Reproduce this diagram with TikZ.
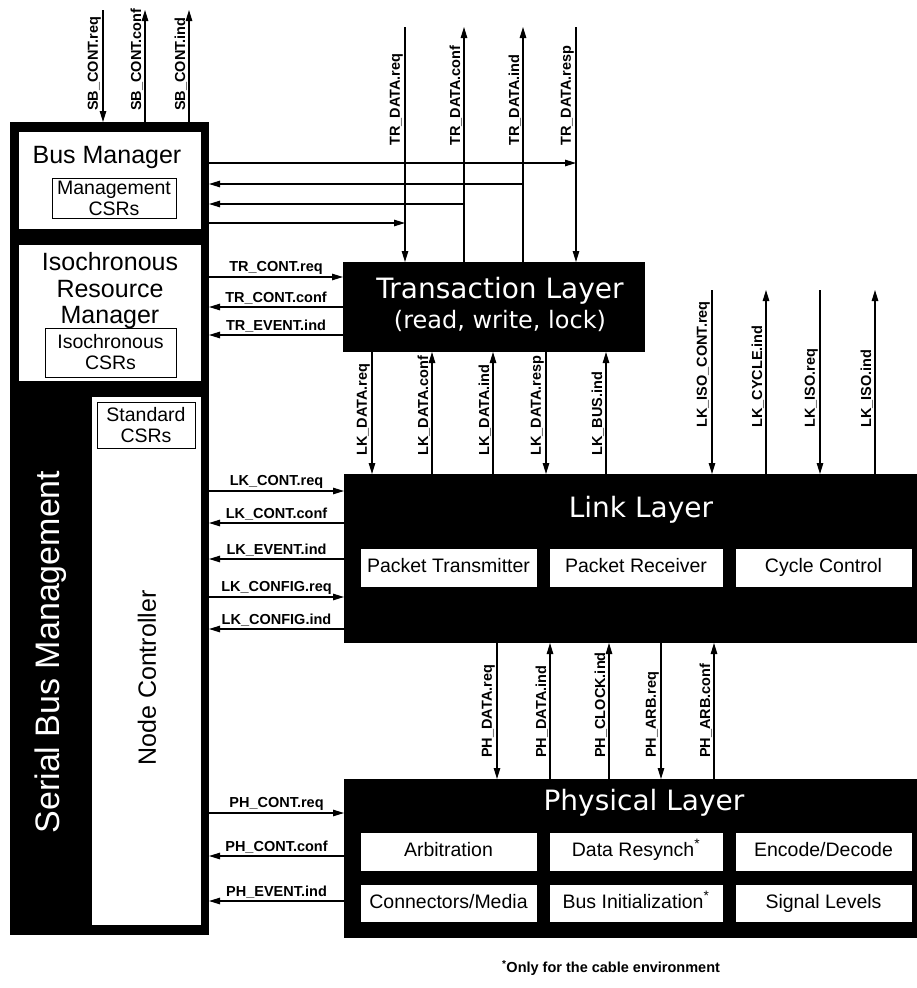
\documentclass[tikz,border=0pt]{standalone}
\usepackage{fontspec}
\setmainfont{Liberation Sans}
\newfontfamily\layerfont{DejaVu Sans}
\usetikzlibrary{arrows.meta}

\newcommand{\sigfont}{\fontsize{14.5}{16}\selectfont\bfseries}

\tikzset{
  sig/.style={line width=1.2pt},
  fwd/.style={-{Triangle[length=11pt,width=6.5pt]}},
  bwd/.style={{Triangle[length=11pt,width=6.5pt]}-},
  blk/.style={fill=black, inner sep=0pt, outer sep=0pt, anchor=north west},
  wht/.style={fill=white, inner sep=0pt, outer sep=0pt, anchor=north west},
  subbox/.style={draw=black, line width=1pt, fill=white, inner sep=0pt, align=center,
    font=\fontsize{19.5}{21}\selectfont},
  modbox/.style={subbox, text height=14pt, text depth=4pt},
  hlbl/.style={font=\sigfont, inner sep=2pt},
  vlbl/.style={font=\sigfont, inner sep=2pt, rotate=90, anchor=south west},
  title/.style={text=white, font=\layerfont\fontsize{28}{30}\selectfont},
}

\begin{document}
\begin{tikzpicture}[x=1pt, y=-1pt]
    \useasboundingbox (0,0) rectangle (917,988);

    % Serial Bus Management block
    \node[blk, minimum width=199pt, minimum height=813pt] (sbm) at (10,122) {};
    \node[wht, minimum width=182pt, minimum height=97pt] (bm) at (19,132) {};
    \node[wht, minimum width=182pt, minimum height=136pt] (irm) at (19,245) {};
    \node[wht, minimum width=109pt, minimum height=528pt] (nc) at (92,397) {};

    \node[font=\fontsize{25}{27}\selectfont] (bmtext) at (107,157) {Bus Manager};
    \node[subbox, minimum width=124pt, minimum height=40pt] (mcsr) at (114,198) {Management\\CSRs};
    \node[align=center, font=\fontsize{25}{26.5}\selectfont] (irmtext) at (110,291) {Isochronous\\Resource\\Manager};
    \node[subbox, minimum width=131pt, minimum height=49pt] (icsr) at (110.5,352.5) {Isochronous\\CSRs};
    \node[subbox, minimum width=98pt, minimum height=46pt] (scsr) at (146,425) {Standard\\CSRs};
    \node[rotate=90, text=white, font=\fontsize{34}{36}\selectfont] (sbmtext) at (51,652) {Serial Bus Management};
    \node[rotate=90, font=\fontsize{25}{27}\selectfont] (nctext) at (147,678) {Node Controller};

    % Layers
    \node[blk, minimum width=302pt, minimum height=90pt] (tl) at (343,262) {};
    \node[blk, minimum width=573pt, minimum height=169pt] (ll) at (344,474) {};
    \node[blk, minimum width=573pt, minimum height=159pt] (pl) at (344,779) {};

    \node[title] (tltitle) at (500,291) {Transaction Layer};
    \node[title, font=\layerfont\fontsize{24}{26}\selectfont] (tlsub) at (500,321) {(read, write, lock)};
    \node[title] (lltitle) at (641,510) {Link Layer};
    \node[title] (pltitle) at (644,803) {Physical Layer};

    \node[modbox, minimum width=177pt, minimum height=39pt] (ptx) at (448.5,567.5) {Packet Transmitter};
    \node[modbox, minimum width=174pt, minimum height=39pt] (prx) at (636,567.5) {Packet Receiver};
    \node[modbox, minimum width=177pt, minimum height=39pt] (cyc) at (823.5,567.5) {Cycle Control};

    \node[modbox, minimum width=177pt, minimum height=39pt] (arb) at (448.5,851.5) {Arbitration};
    \node[modbox, minimum width=174pt, minimum height=39pt] (drs) at (636,851.5) {Data Resynch\textsuperscript{*}};
    \node[modbox, minimum width=177pt, minimum height=39pt] (enc) at (823.5,851.5) {Encode/Decode};
    \node[modbox, minimum width=177pt, minimum height=38pt] (con) at (448.5,903.5) {Connectors/Media};
    \node[modbox, minimum width=174pt, minimum height=38pt] (bin) at (636,903.5) {Bus Initialization\textsuperscript{*}};
    \node[modbox, minimum width=177pt, minimum height=38pt] (sig) at (823.5,903.5) {Signal Levels};

    % SB_CONT primitives
    \coordinate (sblb) at (0,113);
    \foreach \x/\txt/\way in {103/SB\_CONT.req/fwd, 145/SB\_CONT.conf/bwd, 189/SB\_CONT.ind/bwd} {
        \coordinate (c) at (\x,10);
        \draw[sig,\way] (c) -- (c |- sbm.north);
        \node[vlbl] at (c |- sblb) {\txt};
    }

    % TR_DATA primitives
    \coordinate (trq) at (405,27);
    \coordinate (tcf) at (464,27);
    \coordinate (tin) at (523,27);
    \coordinate (trs) at (576,27);
    \coordinate (trlb) at (0,148);
    \foreach \c/\txt/\way in {trq/TR\_DATA.req/fwd, tcf/TR\_DATA.conf/bwd, tin/TR\_DATA.ind/bwd, trs/TR\_DATA.resp/fwd} {
        \draw[sig,\way] (\c) -- (\c |- tl.north);
        \node[vlbl] at (\c |- trlb) {\txt};
    }

    % Bus Manager taps
    \coordinate (b1) at (0,163);
    \coordinate (b2) at (0,184);
    \coordinate (b3) at (0,204);
    \coordinate (b4) at (0,223);
    \draw[sig,fwd] (b1 -| sbm.east) -- (b1 -| trs);
    \draw[sig,bwd] (b2 -| sbm.east) -- (b2 -| tin);
    \draw[sig,bwd] (b3 -| sbm.east) -- (b3 -| tcf);
    \draw[sig,fwd] (b4 -| sbm.east) -- (b4 -| trq);

    % LK_DATA primitives
    \coordinate (lklb) at (0,458);
    \foreach \x/\txt/\way in {372/LK\_DATA.req/fwd, 432/LK\_DATA.conf/bwd, 493/LK\_DATA.ind/bwd,
                              546/LK\_DATA.resp/fwd, 606/LK\_BUS.ind/bwd} {
        \coordinate (c) at (\x,0);
        \draw[sig,\way] (c |- tl.south) -- (c |- ll.north);
        \node[vlbl] at (c |- lklb) {\txt};
    }

    % LK_ISO primitives
    \coordinate (isolb) at (0,430);
    \foreach \x/\txt/\way in {712/LK\_ISO\_CONT.req/fwd, 766/LK\_CYCLE.ind/bwd, 820/LK\_ISO.req/fwd, 875/LK\_ISO.ind/bwd} {
        \coordinate (c) at (\x,290);
        \draw[sig,\way] (c) -- (c |- ll.north);
        \node[vlbl] at (c |- isolb) {\txt};
    }

    % PH primitives
    \coordinate (phlb) at (0,760);
    \foreach \x/\txt/\way in {497/PH\_DATA.req/fwd, 550/PH\_DATA.ind/bwd, 609/PH\_CLOCK.ind/bwd,
                              661/PH\_ARB.req/fwd, 714/PH\_ARB.conf/bwd} {
        \coordinate (c) at (\x,0);
        \draw[sig,\way] (c |- ll.south) -- (c |- pl.north);
        \node[vlbl] at (c |- phlb) {\txt};
    }

    % Management primitives to the layers
    \foreach \y/\txt/\way in {277/TR\_CONT.req/fwd, 307/TR\_CONT.conf/bwd, 335/TR\_EVENT.ind/bwd} {
        \coordinate (r) at (0,\y);
        \draw[sig,\way] (r -| sbm.east) -- (r -| tl.west) node[midway, above, hlbl] {\txt};
    }
    \foreach \y/\txt/\way in {491/LK\_CONT.req/fwd, 523/LK\_CONT.conf/bwd, 559/LK\_EVENT.ind/bwd,
                              597/LK\_CONFIG.req/fwd, 629/LK\_CONFIG.ind/bwd} {
        \coordinate (r) at (0,\y);
        \draw[sig,\way] (r -| sbm.east) -- (r -| ll.west) node[midway, above, hlbl] {\txt};
    }
    \foreach \y/\txt/\way in {813/PH\_CONT.req/fwd, 856/PH\_CONT.conf/bwd, 901/PH\_EVENT.ind/bwd} {
        \coordinate (r) at (0,\y);
        \draw[sig,\way] (r -| sbm.east) -- (r -| pl.west) node[midway, above, hlbl] {\txt};
    }

    % Footnote
    \node[font=\sigfont] (note) at (611,968) {\textsuperscript{*}Only for the cable environment};
\end{tikzpicture}
\end{document}
